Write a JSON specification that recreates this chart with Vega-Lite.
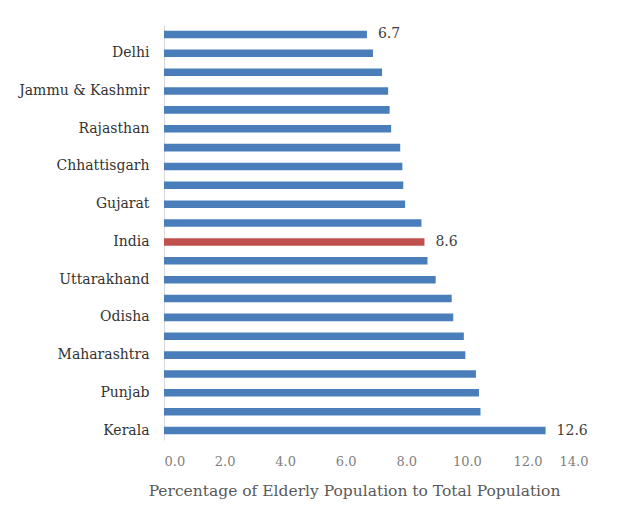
{
  "$schema": "https://vega.github.io/schema/vega-lite/v6.json",
  "width": 424,
  "height": 415,
  "autosize": {"type": "none"},
  "padding": {"left": 164, "top": 25, "right": 41, "bottom": 85},
  "background": "white",
  "config": {"view": {"stroke": null}},
  "data": {"values": [
    {"state": "Assam", "value": 6.7, "highlight": "no", "show": "yes"},
    {"state": "Delhi", "value": 6.9, "highlight": "no", "show": "no"},
    {"state": "Jharkhand", "value": 7.2, "highlight": "no", "show": "no"},
    {"state": "Jammu & Kashmir", "value": 7.4, "highlight": "no", "show": "no"},
    {"state": "Bihar", "value": 7.45, "highlight": "no", "show": "no"},
    {"state": "Rajasthan", "value": 7.5, "highlight": "no", "show": "no"},
    {"state": "Uttar Pradesh", "value": 7.8, "highlight": "no", "show": "no"},
    {"state": "Chhattisgarh", "value": 7.87, "highlight": "no", "show": "no"},
    {"state": "Madhya Pradesh", "value": 7.9, "highlight": "no", "show": "no"},
    {"state": "Gujarat", "value": 7.96, "highlight": "no", "show": "no"},
    {"state": "West Bengal", "value": 8.5, "highlight": "no", "show": "no"},
    {"state": "India", "value": 8.6, "highlight": "yes", "show": "yes"},
    {"state": "Haryana", "value": 8.7, "highlight": "no", "show": "no"},
    {"state": "Uttarakhand", "value": 8.97, "highlight": "no", "show": "no"},
    {"state": "Karnataka", "value": 9.5, "highlight": "no", "show": "no"},
    {"state": "Odisha", "value": 9.55, "highlight": "no", "show": "no"},
    {"state": "Andhra Pradesh", "value": 9.9, "highlight": "no", "show": "no"},
    {"state": "Maharashtra", "value": 9.95, "highlight": "no", "show": "no"},
    {"state": "Himachal Pradesh", "value": 10.3, "highlight": "no", "show": "no"},
    {"state": "Punjab", "value": 10.4, "highlight": "no", "show": "no"},
    {"state": "Tamil Nadu", "value": 10.45, "highlight": "no", "show": "no"},
    {"state": "Kerala", "value": 12.6, "highlight": "no", "show": "yes"}
  ]},
  "encoding": {
    "y": {
      "field": "state", "type": "nominal", "sort": null,
      "scale": {"paddingInner": 0.6, "paddingOuter": 0.3},
      "axis": {
        "title": null, "ticks": false, "domainColor": "#d9d9d9", "domainWidth": 1,
        "labelFont": "DejaVu Serif", "labelFontSize": 14, "labelFontWeight": "normal",
        "labelColor": "#333333", "labelPadding": 15,
        "labelExpr": "indexof(['Delhi','Jammu & Kashmir','Rajasthan','Chhattisgarh','Gujarat','India','Uttarakhand','Odisha','Maharashtra','Punjab','Kerala'], datum.value) >= 0 ? datum.value : ''"
      }
    },
    "x": {
      "field": "value", "type": "quantitative",
      "scale": {"domain": [0, 14], "nice": false},
      "axis": {
        "values": [0, 2, 4, 6, 8, 10, 12, 14], "format": ".1f", "grid": false,
        "domain": false, "ticks": false, "labelPadding": 15,
        "labelFont": "DejaVu Serif", "labelFontSize": 13, "labelColor": "#7f7f7f",
        "title": "Percentage of Elderly Population to Total Population",
        "titleFont": "DejaVu Serif", "titleFontSize": 15.5, "titleFontWeight": "normal",
        "titleColor": "#595959", "titlePadding": 15,
        "titleAnchor": "start", "titleAlign": "center", "titleX": 190
      }
    }
  },
  "layer": [
    {
      "mark": {"type": "bar"},
      "encoding": {
        "color": {
          "field": "highlight", "type": "nominal",
          "scale": {"domain": ["no", "yes"], "range": ["#4a7ebb", "#c0504d"]},
          "legend": null
        }
      }
    },
    {
      "transform": [{"filter": "datum.show == 'yes'"}],
      "mark": {"type": "text", "align": "left", "dx": 11, "font": "DejaVu Serif", "fontSize": 14, "color": "#404040"},
      "encoding": {"text": {"field": "value", "type": "quantitative", "format": ".1f"}}
    }
  ]
}
